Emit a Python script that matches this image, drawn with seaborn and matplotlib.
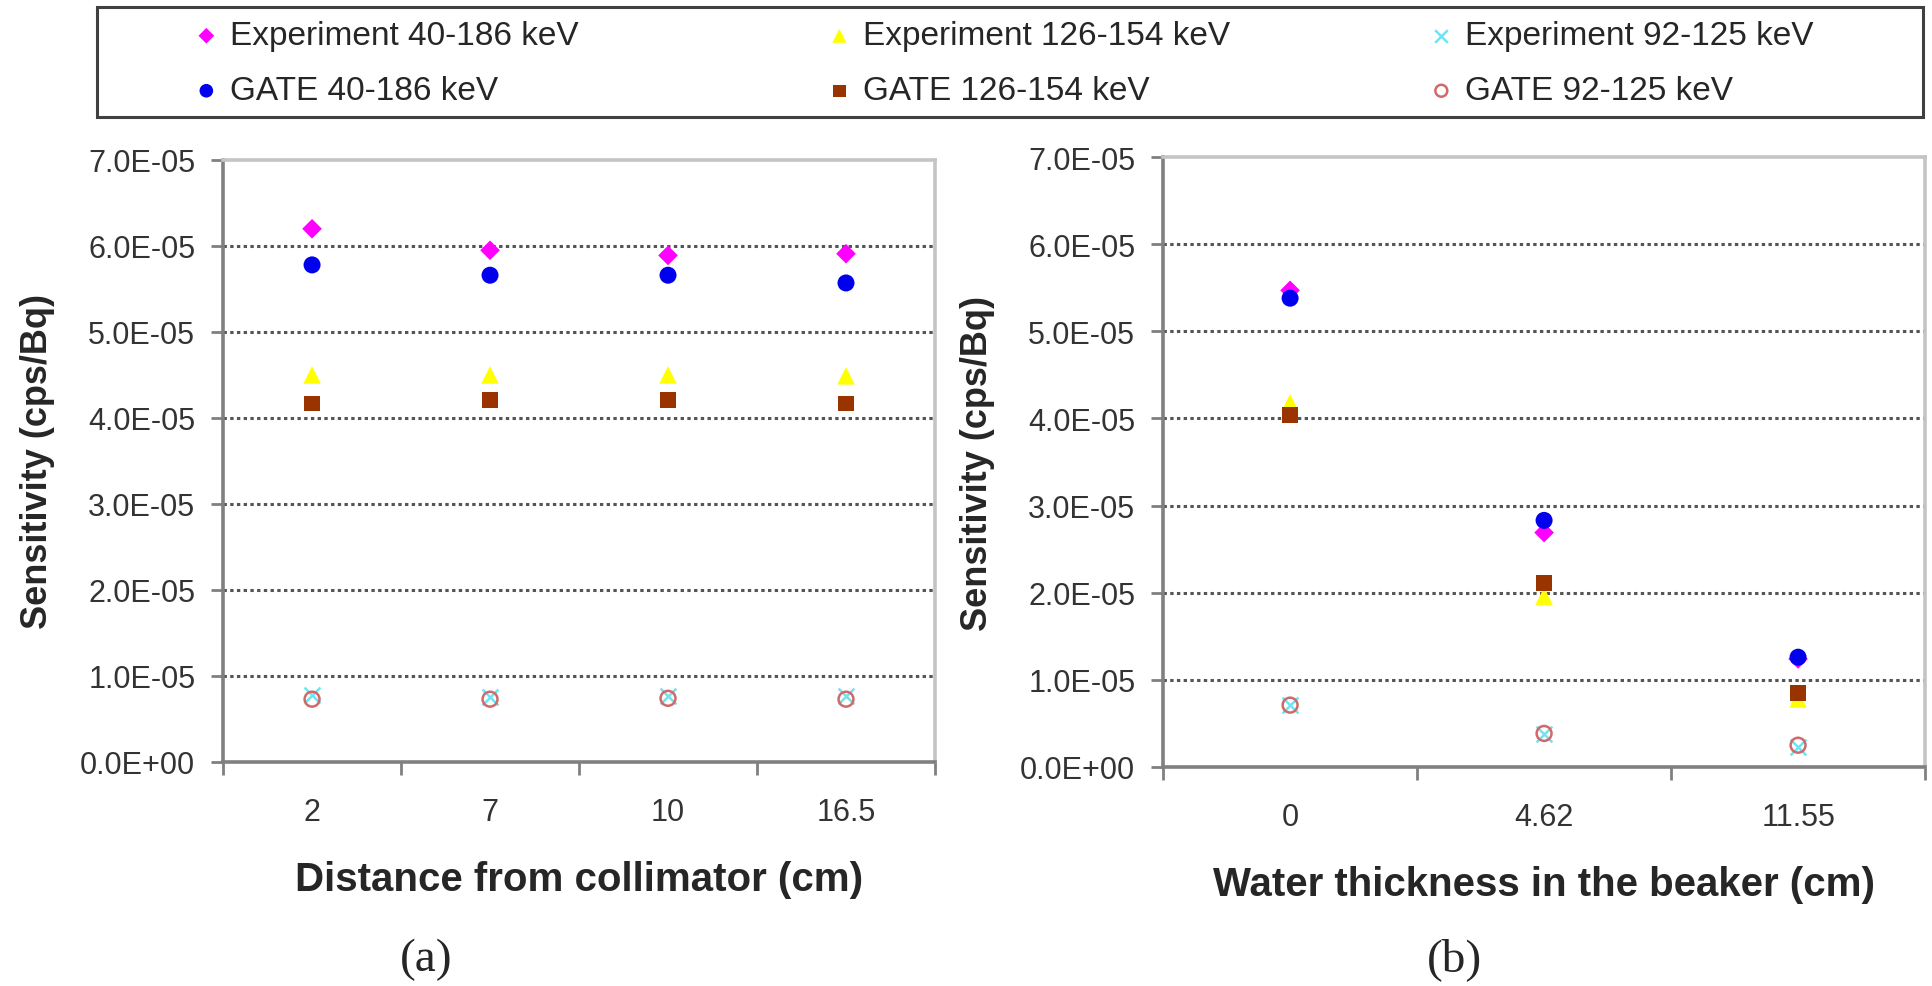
import numpy as np
import pandas as pd
import seaborn as sns
import matplotlib.pyplot as plt
from matplotlib.ticker import FuncFormatter, FixedLocator
from matplotlib.patches import Rectangle

# categories
distance_labels = ['2', '7', '10', '16.5']
thickness_labels = ['0', '4.62', '11.55']

# (a) sensitivity vs distance from collimator (cps/Bq)
exp_40_186_a = [6.20e-5, 5.95e-5, 5.89e-5, 5.91e-5]
gate_40_186_a = [5.78e-5, 5.66e-5, 5.66e-5, 5.57e-5]
exp_126_154_a = [4.50e-5, 4.50e-5, 4.50e-5, 4.49e-5]
gate_126_154_a = [4.17e-5, 4.21e-5, 4.21e-5, 4.17e-5]
exp_92_125_a = [0.78e-5, 0.76e-5, 0.77e-5, 0.77e-5]
gate_92_125_a = [0.73e-5, 0.73e-5, 0.74e-5, 0.73e-5]

# (b) sensitivity vs water thickness in the beaker (cps/Bq)
exp_40_186_b = [5.47e-5, 2.69e-5, 1.24e-5]
gate_40_186_b = [5.38e-5, 2.83e-5, 1.26e-5]
exp_126_154_b = [4.18e-5, 1.96e-5, 0.78e-5]
gate_126_154_b = [4.04e-5, 2.11e-5, 0.85e-5]
exp_92_125_b = [0.71e-5, 0.38e-5, 0.23e-5]
gate_92_125_b = [0.71e-5, 0.385e-5, 0.25e-5]

series_names = ['Experiment 40-186 keV', 'Experiment 126-154 keV', 'Experiment 92-125 keV',
                'GATE 40-186 keV', 'GATE 126-154 keV', 'GATE 92-125 keV']

# marker styles for each series
styles = {
    'Experiment 40-186 keV': dict(marker='D', color='#ff00ff', s=100),
    'Experiment 126-154 keV': dict(marker='^', color='#ffff00', s=160),
    'Experiment 92-125 keV': dict(marker='x', color='#70e4f0', s=130, linewidth=1.8),
    'GATE 40-186 keV': dict(marker='o', color='#0000ee', s=150),
    'GATE 126-154 keV': dict(marker='s', color='#993300', s=125),
    'GATE 92-125 keV': dict(marker='o', color='#d06a6a', s=115, linewidth=1.8),
}

sns.set_theme(style='white')
plt.rcParams['font.family'] = ['Liberation Sans', 'DejaVu Sans']

fig = plt.figure(figsize=(19.33, 9.87), dpi=100)
axL = fig.add_axes([0.1154, 0.2270, 0.3683, 0.6099])
axR = fig.add_axes([0.6017, 0.2219, 0.3942, 0.6180])


def draw_panel(ax, cats, data, xlabel):
    for name in series_names:
        df = pd.DataFrame({'x': cats, 'y': data[name]})
        st = dict(styles[name])
        if name == 'GATE 92-125 keV':
            sns.scatterplot(data=df, x='x', y='y', ax=ax, label=name, legend=False,
                            marker=st['marker'], s=st['s'], color=st['color'],
                            edgecolor=st['color'], linewidth=st['linewidth'], zorder=4)
            ax.collections[-1].set_facecolor('none')
        elif st['marker'] == 'x':
            sns.scatterplot(data=df, x='x', y='y', ax=ax, label=name, legend=False,
                            marker='x', s=st['s'], color=st['color'],
                            linewidth=st['linewidth'], zorder=3)
        else:
            sns.scatterplot(data=df, x='x', y='y', ax=ax, label=name, legend=False,
                            marker=st['marker'], s=st['s'], color=st['color'],
                            edgecolor='none', linewidth=0, zorder=3)

    n = len(cats)
    ax.set_xlim(-0.5, n - 0.5)
    ax.set_ylim(0, 7e-5)
    ax.yaxis.set_major_locator(FixedLocator(np.arange(0, 7.01e-5, 1e-5)))
    ax.yaxis.set_major_formatter(FuncFormatter(lambda v, p: f'{v:.1E}'))

    # boundaries get tick marks, category centres get labels
    ax.xaxis.set_major_locator(FixedLocator(np.arange(-0.5, n, 1.0)))
    ax.xaxis.set_major_formatter(FuncFormatter(lambda v, p: ''))
    ax.xaxis.set_minor_locator(FixedLocator(np.arange(n)))
    ax.set_xticks(np.arange(n), cats, minor=True)

    ax.tick_params(axis='x', which='major', direction='out', length=9, width=2,
                   color='#808080', bottom=True)
    ax.tick_params(axis='x', which='minor', length=0, pad=25, labelsize=22,
                   labelcolor='#333333')
    ax.tick_params(axis='y', direction='out', length=9, width=2, color='#808080',
                   left=True, pad=11, labelsize=22, labelcolor='#333333')

    ax.grid(False)
    ax.yaxis.grid(True, linestyle=(0, (1.1, 1.1)), linewidth=2.2, color='#555555')
    gl = ax.yaxis.get_gridlines()
    gl[0].set_visible(False)
    gl[-1].set_visible(False)
    ax.set_axisbelow(True)

    for side in ['left', 'bottom']:
        ax.spines[side].set_color('#808080')
        ax.spines[side].set_linewidth(2.6)
    for side in ['top', 'right']:
        ax.spines[side].set_color('#c4c4c4')
        ax.spines[side].set_linewidth(2.6)

    ax.set_xlabel(xlabel, fontsize=29, fontweight='bold', labelpad=24)
    ax.set_ylabel('Sensitivity (cps/Bq)', fontsize=26, fontweight='bold', labelpad=18)


data_a = dict(zip(series_names, [exp_40_186_a, exp_126_154_a, exp_92_125_a,
                                 gate_40_186_a, gate_126_154_a, gate_92_125_a]))
data_b = dict(zip(series_names, [exp_40_186_b, exp_126_154_b, exp_92_125_b,
                                 gate_40_186_b, gate_126_154_b, gate_92_125_b]))

draw_panel(axL, distance_labels, data_a, 'Distance from collimator (cm)')
draw_panel(axR, thickness_labels, data_b, 'Water thickness in the beaker (cm)')

# legend: two rows x three columns across the top, one small legend per column
handles, labels = axL.get_legend_handles_labels()
lookup = dict(zip(labels, handles))
columns = [('Experiment 40-186 keV', 'GATE 40-186 keV'),
           ('Experiment 126-154 keV', 'GATE 126-154 keV'),
           ('Experiment 92-125 keV', 'GATE 92-125 keV')]
col_x = [193, 826, 1428]

fig.patches.append(Rectangle((97 / 1933, 1 - 118 / 987), (1923 - 97) / 1933, 110 / 987,
                             transform=fig.transFigure, facecolor='white',
                             edgecolor='#404040', linewidth=2.2, zorder=0))
for pair, x in zip(columns, col_x):
    leg = fig.legend([lookup[k] for k in pair], list(pair), frameon=False,
                     loc='center left', bbox_to_anchor=(x / 1933, 1 - 64.5 / 987),
                     fontsize=24, handlelength=0.8, handletextpad=0.3,
                     labelspacing=0.72, borderpad=0, borderaxespad=0, markerscale=0.8)

# panel captions
fig.text(0.2205, 0.028, '(a)', ha='center', va='center', fontsize=34,
         family=['Liberation Serif', 'DejaVu Serif'])
fig.text(0.7527, 0.028, '(b)', ha='center', va='center', fontsize=34,
         family=['Liberation Serif', 'DejaVu Serif'])

fig.savefig('out.png', dpi=100)
